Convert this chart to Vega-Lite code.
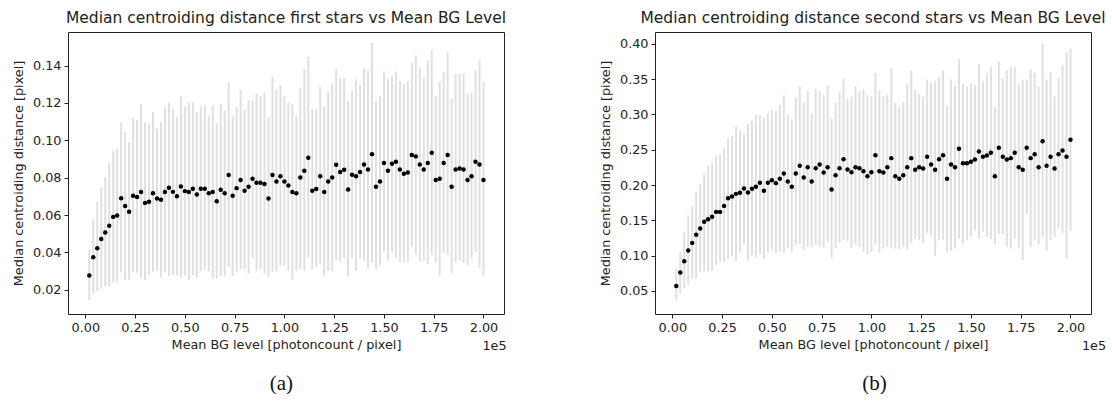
{
  "$schema": "https://vega.github.io/schema/vega-lite/v6.json",
  "background": "white",
  "padding": {"left": 12, "top": 10, "right": 5, "bottom": 0},
  "config": {
    "font": "DejaVu Sans",
    "view": {"stroke": "#222", "strokeWidth": 1},
    "axis": {"grid": false, "domain": false, "tickColor": "#222", "tickSize": 4, "labelFontSize": 12.8, "labelColor": "#222", "titleFontSize": 12.8, "titleFontWeight": "normal", "titleColor": "#222", "labelPadding": 3, "titlePadding": 7},
    "axisX": {"titlePadding": 5},
    "title": {"fontSize": 15.5, "fontWeight": "normal", "color": "#222"},
    "concat": {"spacing": 0}
  },
  "datasets": {
    "a": [
      {"x":2000,"y":0.0276,"lo":0.0144,"hi":0.0417},{"x":4000,"y":0.0374,"lo":0.0179,"hi":0.0578},{"x":6000,"y":0.0422,"lo":0.0192,"hi":0.0671},{"x":8000,"y":0.0472,"lo":0.0206,"hi":0.0748},{"x":10000,"y":0.0506,"lo":0.0220,"hi":0.0803},
      {"x":12000,"y":0.0542,"lo":0.0217,"hi":0.0880},{"x":14000,"y":0.0590,"lo":0.0238,"hi":0.0942},{"x":16000,"y":0.0598,"lo":0.0245,"hi":0.0957},{"x":18000,"y":0.0690,"lo":0.0292,"hi":0.1096},{"x":20000,"y":0.0648,"lo":0.0251,"hi":0.1046},
      {"x":22000,"y":0.0617,"lo":0.0253,"hi":0.0991},{"x":24000,"y":0.0703,"lo":0.0295,"hi":0.1118},{"x":26000,"y":0.0696,"lo":0.0290,"hi":0.1109},{"x":28000,"y":0.0723,"lo":0.0265,"hi":0.1195},{"x":30000,"y":0.0665,"lo":0.0251,"hi":0.1096},
      {"x":32000,"y":0.0671,"lo":0.0278,"hi":0.1089},{"x":34000,"y":0.0716,"lo":0.0294,"hi":0.1152},{"x":36000,"y":0.0689,"lo":0.0303,"hi":0.1062},{"x":38000,"y":0.0682,"lo":0.0267,"hi":0.1098},{"x":40000,"y":0.0723,"lo":0.0295,"hi":0.1178},
      {"x":42000,"y":0.0746,"lo":0.0274,"hi":0.1202},{"x":44000,"y":0.0724,"lo":0.0281,"hi":0.1166},{"x":46000,"y":0.0701,"lo":0.0278,"hi":0.1127},{"x":48000,"y":0.0753,"lo":0.0265,"hi":0.1237},{"x":50000,"y":0.0728,"lo":0.0278,"hi":0.1180},
      {"x":52000,"y":0.0723,"lo":0.0251,"hi":0.1202},{"x":54000,"y":0.0741,"lo":0.0278,"hi":0.1207},{"x":56000,"y":0.0710,"lo":0.0265,"hi":0.1153},{"x":58000,"y":0.0741,"lo":0.0299,"hi":0.1180},{"x":60000,"y":0.0741,"lo":0.0310,"hi":0.1186},
      {"x":62000,"y":0.0717,"lo":0.0299,"hi":0.1130},{"x":64000,"y":0.0723,"lo":0.0260,"hi":0.1187},{"x":66000,"y":0.0674,"lo":0.0260,"hi":0.1091},{"x":68000,"y":0.0735,"lo":0.0272,"hi":0.1195},{"x":70000,"y":0.0717,"lo":0.0274,"hi":0.1159},
      {"x":72000,"y":0.0814,"lo":0.0322,"hi":0.1311},{"x":74000,"y":0.0703,"lo":0.0272,"hi":0.1130},{"x":76000,"y":0.0744,"lo":0.0295,"hi":0.1178},{"x":78000,"y":0.0787,"lo":0.0310,"hi":0.1270},{"x":80000,"y":0.0730,"lo":0.0310,"hi":0.1164},
      {"x":82000,"y":0.0751,"lo":0.0287,"hi":0.1214},{"x":84000,"y":0.0794,"lo":0.0371,"hi":0.1214},{"x":86000,"y":0.0773,"lo":0.0303,"hi":0.1250},{"x":88000,"y":0.0773,"lo":0.0310,"hi":0.1237},{"x":90000,"y":0.0766,"lo":0.0288,"hi":0.1255},
      {"x":92000,"y":0.0689,"lo":0.0267,"hi":0.1123},{"x":94000,"y":0.0814,"lo":0.0295,"hi":0.1339},{"x":96000,"y":0.0780,"lo":0.0301,"hi":0.1270},{"x":98000,"y":0.0808,"lo":0.0331,"hi":0.1296},{"x":100000,"y":0.0780,"lo":0.0328,"hi":0.1236},
      {"x":102000,"y":0.0758,"lo":0.0301,"hi":0.1202},{"x":104000,"y":0.0723,"lo":0.0254,"hi":0.1195},{"x":106000,"y":0.0716,"lo":0.0303,"hi":0.1132},{"x":108000,"y":0.0801,"lo":0.0313,"hi":0.1278},{"x":110000,"y":0.0837,"lo":0.0301,"hi":0.1382},
      {"x":112000,"y":0.0907,"lo":0.0371,"hi":0.1447},{"x":114000,"y":0.0730,"lo":0.0310,"hi":0.1166},{"x":116000,"y":0.0739,"lo":0.0322,"hi":0.1166},{"x":118000,"y":0.0808,"lo":0.0337,"hi":0.1287},{"x":120000,"y":0.0723,"lo":0.0274,"hi":0.1180},
      {"x":122000,"y":0.0780,"lo":0.0299,"hi":0.1259},{"x":124000,"y":0.0801,"lo":0.0301,"hi":0.1305},{"x":126000,"y":0.0869,"lo":0.0358,"hi":0.1382},{"x":128000,"y":0.0830,"lo":0.0349,"hi":0.1334},{"x":130000,"y":0.0842,"lo":0.0367,"hi":0.1332},
      {"x":132000,"y":0.0737,"lo":0.0274,"hi":0.1209},{"x":134000,"y":0.0816,"lo":0.0371,"hi":0.1264},{"x":136000,"y":0.0808,"lo":0.0301,"hi":0.1327},{"x":138000,"y":0.0830,"lo":0.0367,"hi":0.1298},{"x":140000,"y":0.0871,"lo":0.0358,"hi":0.1389},
      {"x":142000,"y":0.0844,"lo":0.0317,"hi":0.1373},{"x":144000,"y":0.0926,"lo":0.0346,"hi":0.1522},{"x":146000,"y":0.0751,"lo":0.0310,"hi":0.1207},{"x":148000,"y":0.0780,"lo":0.0331,"hi":0.1237},{"x":150000,"y":0.0878,"lo":0.0406,"hi":0.1368},
      {"x":152000,"y":0.0837,"lo":0.0358,"hi":0.1327},{"x":154000,"y":0.0874,"lo":0.0403,"hi":0.1346},{"x":156000,"y":0.0885,"lo":0.0372,"hi":0.1368},{"x":158000,"y":0.0844,"lo":0.0349,"hi":0.1318},{"x":160000,"y":0.0821,"lo":0.0346,"hi":0.1300},
      {"x":162000,"y":0.0828,"lo":0.0346,"hi":0.1314},{"x":164000,"y":0.0921,"lo":0.0430,"hi":0.1416},{"x":166000,"y":0.0914,"lo":0.0388,"hi":0.1454},{"x":168000,"y":0.0871,"lo":0.0353,"hi":0.1391},{"x":170000,"y":0.0844,"lo":0.0356,"hi":0.1336},
      {"x":172000,"y":0.0878,"lo":0.0337,"hi":0.1425},{"x":174000,"y":0.0934,"lo":0.0388,"hi":0.1486},{"x":176000,"y":0.0787,"lo":0.0346,"hi":0.1237},{"x":178000,"y":0.0794,"lo":0.0276,"hi":0.1314},{"x":180000,"y":0.0878,"lo":0.0399,"hi":0.1363},
      {"x":182000,"y":0.0921,"lo":0.0387,"hi":0.1473},{"x":184000,"y":0.0751,"lo":0.0290,"hi":0.1223},{"x":186000,"y":0.0844,"lo":0.0346,"hi":0.1355},{"x":188000,"y":0.0849,"lo":0.0358,"hi":0.1355},{"x":190000,"y":0.0844,"lo":0.0342,"hi":0.1355},
      {"x":192000,"y":0.0787,"lo":0.0331,"hi":0.1250},{"x":194000,"y":0.0808,"lo":0.0367,"hi":0.1257},{"x":196000,"y":0.0885,"lo":0.0406,"hi":0.1377},{"x":198000,"y":0.0871,"lo":0.0315,"hi":0.1432},{"x":200000,"y":0.0787,"lo":0.0276,"hi":0.1312}
    ],
    "b": [
      {"x":2000,"y":0.0572,"lo":0.0365,"hi":0.0818},{"x":4000,"y":0.0761,"lo":0.0464,"hi":0.1054},{"x":6000,"y":0.0922,"lo":0.0535,"hi":0.1332},{"x":8000,"y":0.1073,"lo":0.0582,"hi":0.1573},{"x":10000,"y":0.1181,"lo":0.0676,"hi":0.1705},
      {"x":12000,"y":0.1295,"lo":0.0676,"hi":0.1904},{"x":14000,"y":0.1384,"lo":0.0771,"hi":0.2012},{"x":16000,"y":0.1479,"lo":0.0780,"hi":0.2163},{"x":18000,"y":0.1517,"lo":0.0780,"hi":0.2272},{"x":20000,"y":0.1550,"lo":0.0789,"hi":0.2305},
      {"x":22000,"y":0.1620,"lo":0.0865,"hi":0.2409},{"x":24000,"y":0.1620,"lo":0.0912,"hi":0.2437},{"x":26000,"y":0.1705,"lo":0.0912,"hi":0.2517},{"x":28000,"y":0.1814,"lo":0.0959,"hi":0.2659},{"x":30000,"y":0.1838,"lo":0.0997,"hi":0.2697},
      {"x":32000,"y":0.1875,"lo":0.0926,"hi":0.2829},{"x":34000,"y":0.1890,"lo":0.1044,"hi":0.2772},{"x":36000,"y":0.1951,"lo":0.1162,"hi":0.2721},{"x":38000,"y":0.1894,"lo":0.0931,"hi":0.2867},{"x":40000,"y":0.1946,"lo":0.0997,"hi":0.2905},
      {"x":42000,"y":0.1975,"lo":0.0978,"hi":0.2990},{"x":44000,"y":0.2031,"lo":0.1021,"hi":0.2990},{"x":46000,"y":0.1918,"lo":0.0950,"hi":0.2952},{"x":48000,"y":0.2031,"lo":0.1044,"hi":0.3013},{"x":50000,"y":0.2069,"lo":0.1073,"hi":0.3065},
      {"x":52000,"y":0.2027,"lo":0.1030,"hi":0.3051},{"x":54000,"y":0.2088,"lo":0.1054,"hi":0.3131},{"x":56000,"y":0.2163,"lo":0.1044,"hi":0.3273},{"x":58000,"y":0.2050,"lo":0.1111,"hi":0.2999},{"x":60000,"y":0.1975,"lo":0.1054,"hi":0.2933},
      {"x":62000,"y":0.2163,"lo":0.1148,"hi":0.3240},{"x":64000,"y":0.2272,"lo":0.1162,"hi":0.3400},{"x":66000,"y":0.2107,"lo":0.1082,"hi":0.3169},{"x":68000,"y":0.2253,"lo":0.1125,"hi":0.3330},{"x":70000,"y":0.2050,"lo":0.1125,"hi":0.3013},
      {"x":72000,"y":0.2239,"lo":0.1158,"hi":0.3367},{"x":74000,"y":0.2291,"lo":0.1125,"hi":0.3330},{"x":76000,"y":0.2178,"lo":0.1111,"hi":0.3273},{"x":78000,"y":0.2253,"lo":0.1195,"hi":0.3415},{"x":80000,"y":0.1937,"lo":0.0959,"hi":0.2942},
      {"x":82000,"y":0.2140,"lo":0.1111,"hi":0.3164},{"x":84000,"y":0.2239,"lo":0.1181,"hi":0.3311},{"x":86000,"y":0.2366,"lo":0.1219,"hi":0.3509},{"x":88000,"y":0.2220,"lo":0.1205,"hi":0.3226},{"x":90000,"y":0.2182,"lo":0.1111,"hi":0.3249},
      {"x":92000,"y":0.2253,"lo":0.1158,"hi":0.3400},{"x":94000,"y":0.2239,"lo":0.1125,"hi":0.3330},{"x":96000,"y":0.2196,"lo":0.1054,"hi":0.3358},{"x":98000,"y":0.2126,"lo":0.1016,"hi":0.3273},{"x":100000,"y":0.2182,"lo":0.1054,"hi":0.3259},
      {"x":102000,"y":0.2423,"lo":0.1148,"hi":0.3589},{"x":104000,"y":0.2196,"lo":0.1044,"hi":0.3344},{"x":106000,"y":0.2178,"lo":0.1101,"hi":0.3259},{"x":108000,"y":0.2253,"lo":0.1125,"hi":0.3273},{"x":110000,"y":0.2381,"lo":0.1111,"hi":0.3660},
      {"x":112000,"y":0.2126,"lo":0.1101,"hi":0.3164},{"x":114000,"y":0.2088,"lo":0.1092,"hi":0.3108},{"x":116000,"y":0.2140,"lo":0.1125,"hi":0.3179},{"x":118000,"y":0.2253,"lo":0.1087,"hi":0.3424},{"x":120000,"y":0.2381,"lo":0.1181,"hi":0.3618},
      {"x":122000,"y":0.2215,"lo":0.1243,"hi":0.3344},{"x":124000,"y":0.2253,"lo":0.1219,"hi":0.3292},{"x":126000,"y":0.2234,"lo":0.1172,"hi":0.3249},{"x":128000,"y":0.2400,"lo":0.1323,"hi":0.3495},{"x":130000,"y":0.2291,"lo":0.1290,"hi":0.3448},
      {"x":132000,"y":0.2215,"lo":0.0993,"hi":0.3471},{"x":134000,"y":0.2366,"lo":0.1219,"hi":0.3533},{"x":136000,"y":0.2423,"lo":0.1229,"hi":0.3627},{"x":138000,"y":0.2088,"lo":0.1054,"hi":0.3122},{"x":140000,"y":0.2291,"lo":0.1078,"hi":0.3495},
      {"x":142000,"y":0.2253,"lo":0.1101,"hi":0.3405},{"x":144000,"y":0.2513,"lo":0.1243,"hi":0.3783},{"x":146000,"y":0.2310,"lo":0.1172,"hi":0.3438},{"x":148000,"y":0.2310,"lo":0.1224,"hi":0.3391},{"x":150000,"y":0.2329,"lo":0.1266,"hi":0.3438},
      {"x":152000,"y":0.2362,"lo":0.1361,"hi":0.3415},{"x":154000,"y":0.2475,"lo":0.1243,"hi":0.3712},{"x":156000,"y":0.2400,"lo":0.1337,"hi":0.3471},{"x":158000,"y":0.2418,"lo":0.1266,"hi":0.3580},{"x":160000,"y":0.2456,"lo":0.1233,"hi":0.3674},
      {"x":162000,"y":0.2126,"lo":0.1158,"hi":0.3108},{"x":164000,"y":0.2527,"lo":0.1304,"hi":0.3755},{"x":166000,"y":0.2400,"lo":0.1304,"hi":0.3509},{"x":168000,"y":0.2362,"lo":0.1125,"hi":0.3627},{"x":170000,"y":0.2381,"lo":0.1101,"hi":0.3674},
      {"x":172000,"y":0.2456,"lo":0.1243,"hi":0.3674},{"x":174000,"y":0.2253,"lo":0.1115,"hi":0.3424},{"x":176000,"y":0.2215,"lo":0.0936,"hi":0.3495},{"x":178000,"y":0.2527,"lo":0.1583,"hi":0.3495},{"x":180000,"y":0.2381,"lo":0.1125,"hi":0.3636},
      {"x":182000,"y":0.2437,"lo":0.1219,"hi":0.3594},{"x":184000,"y":0.2253,"lo":0.1158,"hi":0.3391},{"x":186000,"y":0.2621,"lo":0.1266,"hi":0.4005},{"x":188000,"y":0.2272,"lo":0.1068,"hi":0.3495},{"x":190000,"y":0.2400,"lo":0.1219,"hi":0.3603},
      {"x":192000,"y":0.2234,"lo":0.1266,"hi":0.3259},{"x":194000,"y":0.2437,"lo":0.1384,"hi":0.3518},{"x":196000,"y":0.2489,"lo":0.1323,"hi":0.3698},{"x":198000,"y":0.2400,"lo":0.0959,"hi":0.3877},{"x":200000,"y":0.2640,"lo":0.1356,"hi":0.3934}
    ]
  },
  "hconcat": [
    {
      "title": {"text": "(a)", "orient": "bottom", "anchor": "middle", "font": "Liberation Serif", "fontSize": 21, "offset": 20, "dx": 22, "color": "#111"},
      "vconcat": [
        {
          "title": {"text": "1e5", "orient": "bottom", "anchor": "end", "fontSize": 12.8, "offset": -12},
          "vconcat": [
            {
              "title": {"text": "Median centroiding distance first stars vs Mean BG Level", "offset": 6},
              "width": 436, "height": 282,
              "data": {"name": "a"},
              "encoding": {
                "x": {"field": "x", "type": "quantitative", "scale": {"domain": [-8700, 210300], "nice": false, "zero": false},
                      "axis": {"title": "Mean BG level [photoncount / pixel]", "values": [0, 25000, 50000, 75000, 100000, 125000, 150000, 175000, 200000], "labelExpr": "format(datum.value / 100000, '.2f')"}}
              },
              "layer": [
                {"mark": {"type": "rule", "color": "#e0e0e0", "strokeWidth": 2},
                 "encoding": {"y": {"field": "lo", "type": "quantitative", "scale": {"domain": [0.007, 0.158], "nice": false, "zero": false},
                                    "axis": {"title": "Median centroiding distance [pixel]", "values": [0.02, 0.04, 0.06, 0.08, 0.10, 0.12, 0.14], "format": ".2f"}},
                              "y2": {"field": "hi"}}},
                {"mark": {"type": "point", "filled": true, "color": "#000", "opacity": 1, "size": 20},
                 "encoding": {"y": {"field": "y", "type": "quantitative"}}}
              ]
            }
          ]
        }
      ]
    },
    {
      "title": {"text": "(b)", "orient": "bottom", "anchor": "middle", "font": "Liberation Serif", "fontSize": 21, "offset": 20, "dx": 22, "color": "#111"},
      "vconcat": [
        {
          "title": {"text": "1e5", "orient": "bottom", "anchor": "end", "fontSize": 12.8, "offset": -12},
          "vconcat": [
            {
              "title": {"text": "Median centroiding distance second stars vs Mean BG Level", "offset": 6},
              "width": 436, "height": 282,
              "data": {"name": "b"},
              "encoding": {
                "x": {"field": "x", "type": "quantitative", "scale": {"domain": [-8700, 210300], "nice": false, "zero": false},
                      "axis": {"title": "Mean BG level [photoncount / pixel]", "values": [0, 25000, 50000, 75000, 100000, 125000, 150000, 175000, 200000], "labelExpr": "format(datum.value / 100000, '.2f')"}}
              },
              "layer": [
                {"mark": {"type": "rule", "color": "#e0e0e0", "strokeWidth": 2},
                 "encoding": {"y": {"field": "lo", "type": "quantitative", "scale": {"domain": [0.0174, 0.4167], "nice": false, "zero": false},
                                    "axis": {"title": "Median centroiding distance [pixel]", "values": [0.05, 0.10, 0.15, 0.20, 0.25, 0.30, 0.35, 0.40], "format": ".2f"}},
                              "y2": {"field": "hi"}}},
                {"mark": {"type": "point", "filled": true, "color": "#000", "opacity": 1, "size": 20},
                 "encoding": {"y": {"field": "y", "type": "quantitative"}}}
              ]
            }
          ]
        }
      ]
    }
  ],
  "spacing": 92
}
